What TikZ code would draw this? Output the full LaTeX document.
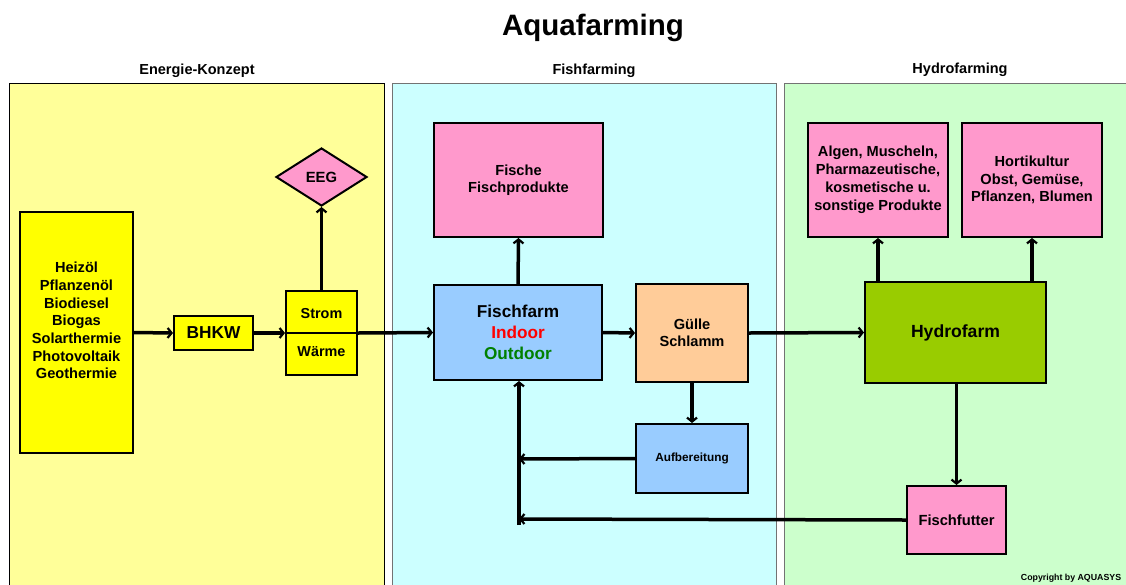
\documentclass[tikz,border=0pt]{standalone}
\usepackage{fontspec}
\setmainfont{Liberation Sans}
\usetikzlibrary{arrows.meta,shapes.geometric}
\definecolor{panY}{HTML}{FFFF99}
\definecolor{panC}{HTML}{CCFFFF}
\definecolor{panG}{HTML}{CCFFCC}
\definecolor{fuelY}{HTML}{FFFF00}
\definecolor{pinkB}{HTML}{FF99CC}
\definecolor{blueB}{HTML}{99CCFF}
\definecolor{orangeB}{HTML}{FFCC99}
\definecolor{hydroG}{HTML}{99CC00}
\definecolor{outG}{HTML}{008000}
\newcommand{\fs}[1]{\fontsize{#1}{#1}\selectfont}
\tikzset{
  box/.style={draw=black, line width=2pt, inner sep=0pt, align=center, font=\bfseries},
  panel/.style={line width=1pt},
  arr/.style={line width=3.5pt, -{Straight Barb[length=4pt,width=10pt,line width=2.2pt]}},
}
\begin{document}
\begin{tikzpicture}[x=1pt,y=-1pt]
\useasboundingbox (0,0) rectangle (1126,584);
% panels
\path[panel, fill=panY, draw=black] (9,83) rectangle (384,600);
\path[panel, fill=panC, draw=black!55] (392,83) rectangle (776,600);
\path[panel, fill=panG, draw=black!55] (784,83) rectangle (1130,600);
% titles
\node[font=\bfseries\fs{29.5}] (title) at (593,28) {Aquafarming};
\node[font=\bfseries\fs{14.5}] (h1) at (197,71) {Energie-Konzept};
\node[font=\bfseries\fs{14.5}] (h2) at (594,71) {Fishfarming};
\node[font=\bfseries\fs{14.5}] (h3) at (960,70) {Hydrofarming};
% energy
\node[box, fill=fuelY, minimum width=113, minimum height=241] (fuel) at (76.5,332.5) {};
\node[align=center, inner sep=0pt, font=\bfseries\fontsize{14.6}{17.7}\selectfont] (fueltxt) at (76.5,320.5)
  {Heizöl\\Pflanzenöl\\Biodiesel\\Biogas\\Solarthermie\\Photovoltaik\\Geothermie};
\node[box, fill=fuelY, minimum width=79, minimum height=34, font=\bfseries\fs{17.3}] (bhkw) at (213.5,333) {BHKW};
\node[box, fill=fuelY, minimum width=71, minimum height=84] (sw) at (321.5,333) {};
\draw[line width=2pt] (sw.west) -- (sw.east);
\node[font=\bfseries\fs{14.4}] (strom) at (321.5,314) {Strom};
\node[font=\bfseries\fs{14.4}] (waerme) at (321.5,352) {Wärme};
\node[draw=black, line width=2pt, fill=pinkB, diamond, inner sep=0pt, minimum width=91, minimum height=58, aspect=1.57, font=\bfseries\fs{14.8}] (eeg) at (321.5,177) {EEG};
% fish
\node[box, fill=pinkB, minimum width=169, minimum height=114, font=\bfseries\fontsize{14.6}{17.5}\selectfont] (fische) at (518.5,180) {Fische\\Fischprodukte};
\node[box, fill=blueB, minimum width=168, minimum height=95, font=\bfseries\fontsize{17.2}{21}\selectfont] (ff) at (518,332.5) {Fischfarm\\\textcolor{red}{Indoor}\\\textcolor{outG}{Outdoor}};
\node[box, fill=orangeB, minimum width=112, minimum height=98, font=\bfseries\fontsize{14.6}{17.5}\selectfont] (guelle) at (692,333) {Gülle\\Schlamm};
\node[box, fill=blueB, minimum width=112, minimum height=69, font=\bfseries\fs{11.8}] (aufb) at (692,458.5) {Aufbereitung};
% hydro
\node[box, fill=hydroG, minimum width=181, minimum height=101, font=\bfseries\fs{17.6}] (hydro) at (955.5,332.5) {Hydrofarm};
\node[box, fill=pinkB, minimum width=140, minimum height=114, font=\bfseries\fontsize{14.6}{18}\selectfont] (algen) at (878,180) {Algen, Muscheln,\\Pharmazeutische,\\kosmetische u.\\sonstige Produkte};
\node[box, fill=pinkB, minimum width=140, minimum height=114, font=\bfseries\fontsize{14.6}{17.5}\selectfont] (hort) at (1032,180) {Hortikultur\\Obst, Gemüse,\\Pflanzen, Blumen};
\node[box, fill=pinkB, minimum width=99, minimum height=68, font=\bfseries\fs{14.7}] (futter) at (956.5,520) {Fischfutter};
\node[font=\bfseries\fs{8.8}] (copy) at (1071,578) {Copyright by AQUASYS};
% connectors
\coordinate (j1) at (519,459);
\coordinate (j2) at (519,519);
\coordinate (j0) at (519,525);
\draw[arr] (fuel.east) -- (bhkw.west);
\draw[arr] (bhkw.east) -- (sw.west);
\draw[arr] (sw.east) -- (ff.west);
\draw[arr] (sw.north) -- (eeg.south);
\draw[arr] (ff.north) -- (fische.south);
\draw[arr] (ff.east) -- (guelle.west);
\draw[arr] (guelle.east) -- (hydro.west);
\draw[arr] (guelle.south) -- (aufb.north);
\draw[arr] (aufb.west) -- (j1);
\draw[arr] (futter.west) -- (j2);
\draw[arr] (j0) -- (j0 |- ff.south);
\draw[arr] (algen.south |- hydro.north) -- (algen.south);
\draw[arr] (hort.south |- hydro.north) -- (hort.south);
\draw[arr] (hydro.south -| futter.north) -- (futter.north);
\end{tikzpicture}
\end{document}
